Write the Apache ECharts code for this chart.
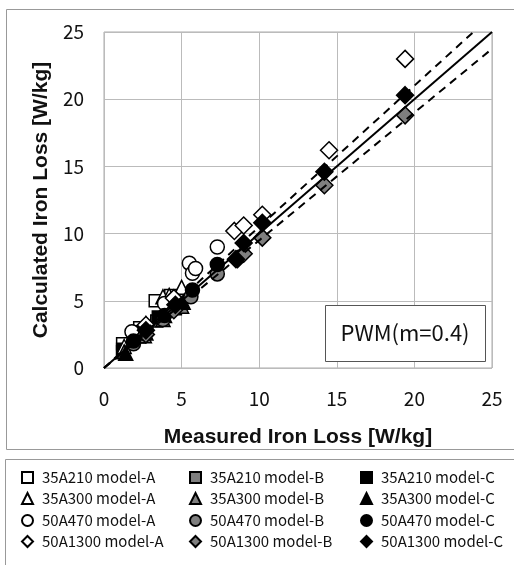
<!DOCTYPE html>
<html><head><meta charset="utf-8">
<script src="https://cdn.jsdelivr.net/npm/echarts@6/dist/echarts.min.js"></script>
<style>html,body{margin:0;padding:0;background:#fff}#c{width:514px;height:565px}</style>
</head><body><div id="c"></div>
<script>
// ---- data ----
var xTicks = [0, 5, 10, 15, 20, 25];
var yTicks = [0, 5, 10, 15, 20, 25];
var sq210A = [[1.2,1.8],[2.3,3.0],[3.3,5.0],[4.3,5.4]];
var sq210B = [[1.2,1.2],[2.3,2.3],[3.4,3.5],[4.6,4.4]];
var sq210C = [[1.2,1.4],[2.4,2.7],[3.5,3.8],[4.7,4.8]];
var tri300A = [[1.3,1.6],[2.7,3.3],[3.8,5.3],[4.2,5.4],[5.0,6.0]];
var tri300B = [[1.3,1.2],[2.6,2.4],[3.8,3.6],[5.0,4.6]];
var tri300C = [[1.4,1.1],[2.7,2.6],[3.9,3.9],[5.1,4.9]];
var cir470A = [[1.8,2.7],[3.9,4.8],[5.5,7.8],[5.7,7.05],[5.9,7.4],[7.3,9.0]];
var cir470B = [[1.9,1.8],[3.8,3.6],[5.6,5.3],[7.3,7.0]];
var cir470C = [[1.9,2.0],[3.9,3.9],[5.7,5.8],[7.3,7.7]];
var dia1300A = [[2.7,3.2],[4.5,5.2],[8.4,10.2],[9.0,10.6],[10.2,11.4],[14.5,16.2],[19.4,23.0]];
var dia1300B = [[2.7,2.5],[4.5,4.3],[8.6,8.1],[9.0,8.5],[10.2,9.7],[14.2,13.6],[19.4,18.8]];
var dia1300C = [[2.7,2.8],[4.6,4.7],[8.5,8.1],[9.0,9.3],[10.2,10.8],[14.2,14.6],[19.4,20.3]];
var lineIdeal = [[0,0],[25,25]];
var lineUpper = [[0,0],[23.8,25]];
var lineLower = [[0,0],[25,23.75]];
var boxLabel = 'PWM(m=0.4)';

var FONT = '"Noto Sans CJK JP", "Liberation Sans", sans-serif';
var TFONT = '"Liberation Sans", Arial, sans-serif';
var groups = [
  {data: sq210A, name: '35A210 model-A', sym: 'rect', size: 12, fill: '#fff'},
  {data: sq210B, name: '35A210 model-B', sym: 'rect', size: 12, fill: '#7f7f7f'},
  {data: sq210C, name: '35A210 model-C', sym: 'rect', size: 12, fill: '#000'},
  {data: tri300A, name: '35A300 model-A', sym: 'triangle', size: 14, fill: '#fff'},
  {data: tri300B, name: '35A300 model-B', sym: 'triangle', size: 14, fill: '#7f7f7f'},
  {data: tri300C, name: '35A300 model-C', sym: 'triangle', size: 14, fill: '#000'},
  {data: cir470A, name: '50A470 model-A', sym: 'circle', size: 14, fill: '#fff'},
  {data: cir470B, name: '50A470 model-B', sym: 'circle', size: 14, fill: '#7f7f7f'},
  {data: cir470C, name: '50A470 model-C', sym: 'circle', size: 14, fill: '#000'},
  {data: dia1300A, name: '50A1300 model-A', sym: 'diamond', size: 17, fill: '#fff'},
  {data: dia1300B, name: '50A1300 model-B', sym: 'diamond', size: 17, fill: '#7f7f7f'},
  {data: dia1300C, name: '50A1300 model-C', sym: 'diamond', size: 17, fill: '#000'}
];
var series = groups.map(function (g) {
  return {
    type: 'scatter', name: g.name, data: g.data, symbol: g.sym, symbolSize: g.size,
    itemStyle: {color: g.fill, borderColor: '#000', borderWidth: 1.5, opacity: 1},
    emphasis: {disabled: true}, z: 2
  };
});
function lineSeries(d, dashed) {
  return {type: 'line', data: d, symbol: 'none', silent: true, z: 3,
    lineStyle: {color: '#000', width: 2, type: dashed ? [8, 6] : 'solid'}};
}
series.push(lineSeries(lineIdeal, false));
series.push(lineSeries(lineUpper, true));
series.push(lineSeries(lineLower, true));

var colLeft = [21, 189, 360];
var rowTop = [470, 491, 513, 534];
var legends = groups.map(function (g, i) {
  return {
    data: [g.name], left: colLeft[i % 3], top: rowTop[Math.floor(i / 3)],
    itemWidth: 11, itemHeight: 11, itemGap: 0, padding: 0,
    selectedMode: false,
    textStyle: {fontFamily: FONT, fontSize: 15, color: '#111', padding: [0, 0, 0, 4]}
  };
});

var chart = echarts.init(document.getElementById('c'), null, {renderer: 'canvas'});
chart.setOption({
  animation: false,
  backgroundColor: '#fff',
  grid: {left: 104, right: 22, top: 32, bottom: 197, show: true, borderColor: '#aaa', borderWidth: 1},
  xAxis: {
    type: 'value', min: xTicks[0], max: xTicks[xTicks.length - 1], interval: 5,
    name: 'Measured Iron Loss [W/kg]', nameLocation: 'middle', nameGap: 59,
    nameTextStyle: {fontFamily: TFONT, fontSize: 21, fontWeight: 'bold', color: '#111'},
    axisLine: {show: false}, axisTick: {show: false},
    axisLabel: {fontFamily: FONT, fontSize: 19, color: '#111', margin: 21},
    splitLine: {lineStyle: {color: '#bbb', width: 1}}
  },
  yAxis: {
    type: 'value', min: yTicks[0], max: yTicks[yTicks.length - 1], interval: 5,
    name: 'Calculated Iron Loss [W/kg]', nameLocation: 'middle', nameGap: 51,
    nameTextStyle: {fontFamily: TFONT, fontSize: 21, fontWeight: 'bold', color: '#111'},
    axisLine: {show: false}, axisTick: {show: false},
    axisLabel: {fontFamily: FONT, fontSize: 19, color: '#111', margin: 20},
    splitLine: {lineStyle: {color: '#bbb', width: 1}}
  },
  legend: legends,
  graphic: [
    {type: 'rect', shape: {x: 6.5, y: 9.5, width: 520, height: 440}, style: {fill: 'none', stroke: '#999', lineWidth: 1}, silent: true, z: -10},
    {type: 'rect', shape: {x: 5.5, y: 459.5, width: 520, height: 120}, style: {fill: 'none', stroke: '#999', lineWidth: 1}, silent: true, z: -10},
    {type: 'rect', shape: {x: 325.5, y: 305.5, width: 160, height: 56}, style: {fill: '#fff', stroke: '#555', lineWidth: 1}, silent: true, z: 10},
    {type: 'text', x: 405, y: 333, style: {text: boxLabel, fontFamily: FONT, fontSize: 22, fill: '#111', align: 'center', verticalAlign: 'middle'}, silent: true, z: 11}
  ],
  series: series
});
</script></body></html>
